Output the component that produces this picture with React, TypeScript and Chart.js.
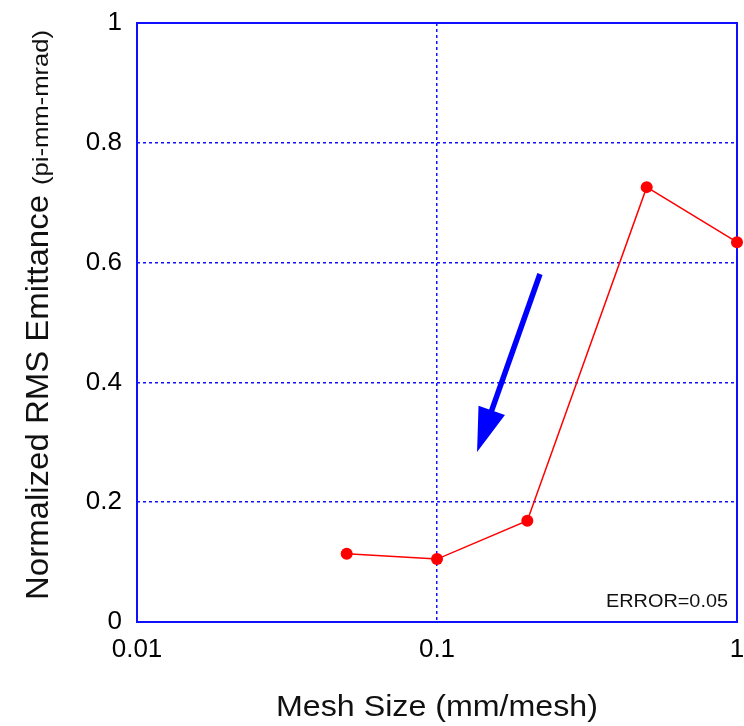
import React, { useEffect, useRef } from "react";
import { Chart, registerables } from "chart.js";

Chart.register(...registerables);

const meshSizes = [0.05, 0.1, 0.2, 0.5, 1];
const emittance = [0.114, 0.105, 0.169, 0.726, 0.634];
const xTicks = [0.01, 0.1, 1];
const yTicks = [0, 0.2, 0.4, 0.6, 0.8, 1];
const xTitle = "Mesh Size (mm/mesh)";
const yTitleMain = "Normalized RMS Emittance";
const yTitleUnit = "(pi-mm-mrad)";
const noteText = "ERROR=0.05";
// arrow annotation in data coordinates: [x, y] start and tip
const arrowStart = [0.2204, 0.581];
const arrowTip = [0.136, 0.284];

const FONT = "'Liberation Sans', Arial, Helvetica, sans-serif";
const BLUE = "#1010ff";

function drawScaledText(ctx: CanvasRenderingContext2D, text: string, font: string, targetLen: number) {
  ctx.font = font;
  const w = ctx.measureText(text).width;
  const s = targetLen / w;
  ctx.save();
  ctx.scale(s, 1);
  ctx.fillText(text, 0, 0);
  ctx.restore();
}

const decorPlugin = {
  id: "decor",
  beforeDatasetsDraw(chart: any) {
    const { ctx, chartArea: a } = chart;
    ctx.save();
    ctx.strokeStyle = BLUE;
    ctx.lineWidth = 2;
    ctx.strokeRect(a.left, a.top, a.right - a.left, a.bottom - a.top);
    ctx.restore();
  },
  afterDatasetsDraw(chart: any) {
    const { ctx, scales } = chart;
    const x0 = scales.x.getPixelForValue(arrowStart[0]);
    const y0 = scales.y.getPixelForValue(arrowStart[1]);
    const x1 = scales.x.getPixelForValue(arrowTip[0]);
    const y1 = scales.y.getPixelForValue(arrowTip[1]);
    const dx = x1 - x0, dy = y1 - y0;
    const len = Math.hypot(dx, dy);
    const ux = dx / len, uy = dy / len;
    const headLen = 44, headHalf = 14;
    const bx = x1 - ux * headLen, by = y1 - uy * headLen;
    ctx.save();
    ctx.strokeStyle = "#0000ff";
    ctx.fillStyle = "#0000ff";
    ctx.lineWidth = 5.5;
    ctx.beginPath();
    ctx.moveTo(x0, y0);
    ctx.lineTo(bx + ux * 4, by + uy * 4);
    ctx.stroke();
    ctx.beginPath();
    ctx.moveTo(x1, y1);
    ctx.lineTo(bx - uy * headHalf, by + ux * headHalf);
    ctx.lineTo(bx + uy * headHalf, by - ux * headHalf);
    ctx.closePath();
    ctx.fill();
    ctx.restore();
  },
  afterDraw(chart: any) {
    const { ctx, chartArea: a } = chart;
    ctx.save();
    ctx.fillStyle = "#111";
    ctx.textBaseline = "alphabetic";
    ctx.textAlign = "left";
    // note text
    ctx.save();
    ctx.translate(a.right - 9 - 122, a.bottom - 15);
    drawScaledText(ctx, noteText, `18px ${FONT}`, 122);
    ctx.restore();
    // x title
    ctx.save();
    ctx.translate((a.left + a.right) / 2 - 161, 716);
    drawScaledText(ctx, xTitle, `30px ${FONT}`, 322);
    ctx.restore();
    // y title
    ctx.save();
    ctx.translate(48, 600);
    ctx.rotate(-Math.PI / 2);
    drawScaledText(ctx, yTitleMain, `32px ${FONT}`, 405);
    ctx.translate(415, 0);
    drawScaledText(ctx, yTitleUnit, `22px ${FONT}`, 155);
    ctx.restore();
    ctx.restore();
  },
};

export default function App() {
  const ref = useRef<HTMLCanvasElement | null>(null);
  useEffect(() => {
    document.body.style.margin = "0";
    const canvas = ref.current;
    if (!canvas) return;
    const chart = new Chart(canvas, {
      type: "scatter",
      data: {
        datasets: [
          {
            data: meshSizes.map((x, i) => ({ x, y: emittance[i] })),
            showLine: true,
            borderColor: "#ff0000",
            backgroundColor: "#ff0000",
            borderWidth: 1.5,
            pointRadius: 6,
            pointHoverRadius: 6,
            pointBorderWidth: 0,
            clip: false as any,
          },
        ],
      },
      options: {
        animation: false,
        responsive: false,
        maintainAspectRatio: false,
        layout: { padding: { left: 0, top: 23, right: 7, bottom: 0 } },
        plugins: { legend: { display: false }, tooltip: { enabled: false }, title: { display: false } },
        scales: {
          x: {
            type: "logarithmic",
            min: 0.01,
            max: 1,
            afterBuildTicks: (s: any) => {
              s.ticks = xTicks.map((v) => ({ value: v }));
            },
            afterFit: (s: any) => {
              s.height = 104;
              s.paddingLeft = 0;
              s.paddingRight = 0;
            },
            ticks: {
              autoSkip: false,
              maxRotation: 0,
              padding: 12,
              color: "#000",
              font: { family: FONT, size: 26 },
              callback: (v: any) => String(v),
            },
            grid: { color: BLUE, lineWidth: 1.5, drawTicks: false },
            border: { display: false, dash: [3, 3] },
          } as any,
          y: {
            min: 0,
            max: 1,
            afterBuildTicks: (s: any) => {
              s.ticks = yTicks.map((v) => ({ value: v }));
            },
            afterFit: (s: any) => {
              s.width = 137;
              s.paddingTop = 0;
              s.paddingBottom = 0;
            },
            ticks: {
              padding: 15,
              color: "#000",
              font: { family: FONT, size: 26 },
              callback: (v: any) => String(+Number(v).toFixed(1)),
            },
            grid: { color: BLUE, lineWidth: 1.5, drawTicks: false },
            border: { display: false, dash: [3, 3] },
          } as any,
        },
      },
      plugins: [decorPlugin],
    });
    return () => chart.destroy();
  }, []);
  return (
    <div style={{ width: 744, height: 726, background: "#fff" }}>
      <canvas ref={ref} width={744} height={726} style={{ display: "block" }} />
    </div>
  );
}
